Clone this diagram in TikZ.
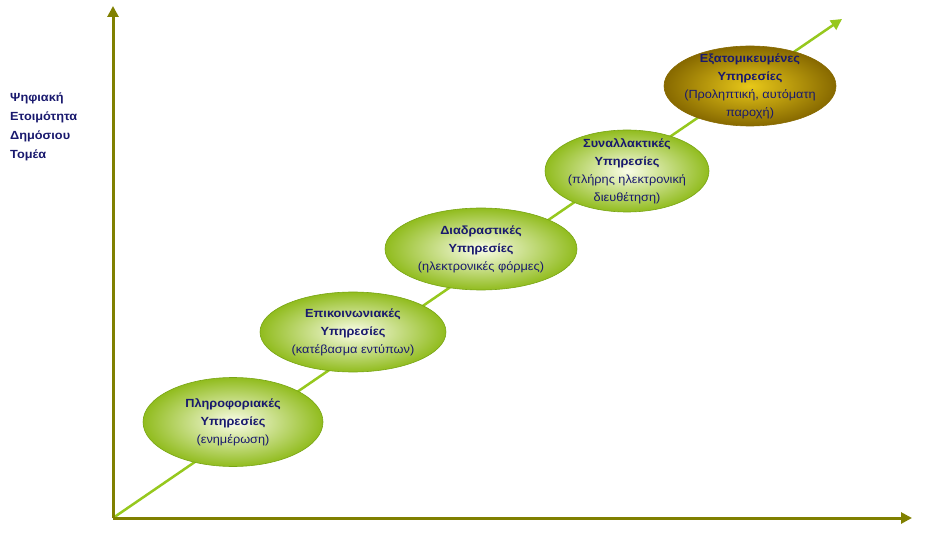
\documentclass[tikz,border=0pt]{standalone}
\usepackage{fontspec}
\setmainfont{Liberation Sans}[FakeStretch=1.08]
\usetikzlibrary{shapes.geometric,arrows.meta}
\definecolor{axisol}{RGB}{128,128,0}
\definecolor{diaggr}{RGB}{150,200,30}
\definecolor{txtnavy}{RGB}{25,25,110}
\definecolor{grout}{RGB}{145,188,30}
\definecolor{grin}{RGB}{250,253,232}
\definecolor{grline}{RGB}{120,165,20}
\definecolor{gdout}{RGB}{135,105,0}
\definecolor{gdin}{RGB}{232,200,25}
\begin{document}
\begin{tikzpicture}[x=1pt,y=-1pt,
  axisline/.style={draw=axisol,line width=3pt,-{Triangle[length=11pt,width=11pt]}},
  diagline/.style={draw=diaggr,line width=2.5pt,-{Triangle[length=11pt,width=11pt]}},
  svc/.style={ellipse,draw=grline,line width=0.6pt,inner color=grin,outer color=grout,
    text=txtnavy,align=center,inner sep=-14pt,
    font=\fontsize{11.8}{18}\selectfont},
  gold/.style={ellipse,draw=gdout,line width=0.6pt,inner color=gdin,outer color=gdout,
    text=txtnavy,align=center,inner sep=-14pt,
    font=\fontsize{11.8}{18}\selectfont},
  sidelabel/.style={text=txtnavy,align=left,anchor=north west,inner sep=0pt,
    font=\bfseries\fontsize{11.8}{19}\selectfont}
]
\useasboundingbox (0,0) rectangle (948,537);
\coordinate (orig) at (113,518);
\coordinate (ytop) at (113,6);
\coordinate (xend) at (912,518);
\coordinate (dend) at (842,19);
\draw[diagline] (orig) -- (dend);
\draw[axisline] (orig) -- (ytop);
\draw[axisline] (orig) -- (xend);

\node[svc,minimum width=180pt,minimum height=89pt] (e1) at (233,422)
  {\textbf{Πληροφοριακές}\\\textbf{Υπηρεσίες}\\(ενημέρωση)};
\node[svc,minimum width=186pt,minimum height=80pt] (e2) at (353,332)
  {\textbf{Επικοινωνιακές}\\\textbf{Υπηρεσίες}\\(κατέβασμα εντύπων)};
\node[svc,minimum width=192pt,minimum height=82pt] (e3) at (481,249)
  {\textbf{Διαδραστικές}\\\textbf{Υπηρεσίες}\\(ηλεκτρονικές φόρμες)};
\node[svc,minimum width=164pt,minimum height=82pt] (e4) at (627,171)
  {\textbf{Συναλλακτικές}\\\textbf{Υπηρεσίες}\\(πλήρης ηλεκτρονική\\διευθέτηση)};
\node[gold,minimum width=172pt,minimum height=80pt] (e5) at (750,86)
  {\textbf{Εξατομικευμένες}\\\textbf{Υπηρεσίες}\\(Προληπτική, αυτόματη\\παροχή)};

\node[sidelabel] (lab) at (10,93) {Ψηφιακή\\Ετοιμότητα\\Δημόσιου\\Τομέα};
\end{tikzpicture}
\end{document}
